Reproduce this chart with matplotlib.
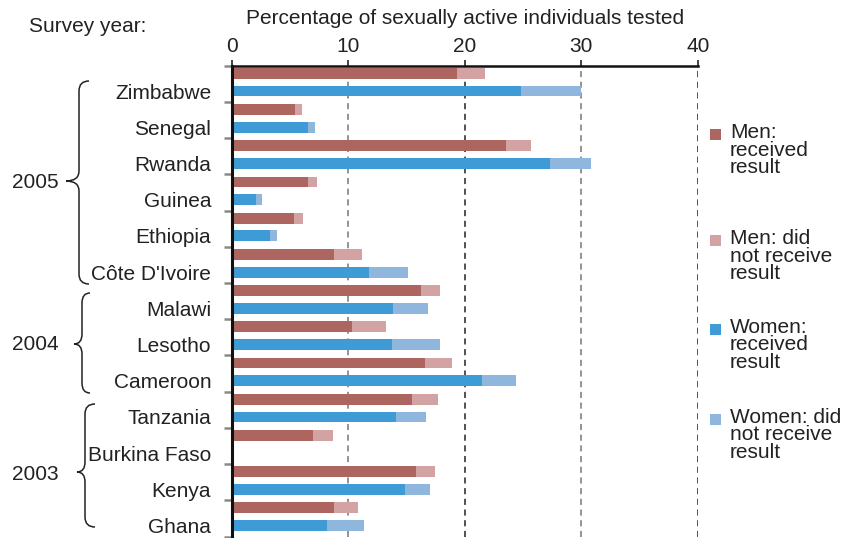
import numpy as np
import matplotlib
matplotlib.use("Agg")
import matplotlib.pyplot as plt
from matplotlib.path import Path
from matplotlib.patches import PathPatch

plt.rcParams['font.family'] = ['Liberation Sans', 'DejaVu Sans']

countries = ["Zimbabwe", "Senegal", "Rwanda", "Guinea", "Ethiopia", "Côte D'Ivoire",
             "Malawi", "Lesotho", "Cameroon",
             "Tanzania", "Burkina Faso", "Kenya", "Ghana"]
men_received = [19.3, 5.4, 23.5, 6.5, 5.3, 8.8, 16.2, 10.3, 16.6, 15.5, 7.0, 15.8, 8.8]
men_not_received = [2.4, 0.6, 2.2, 0.8, 0.8, 2.4, 1.7, 2.9, 2.3, 2.2, 1.7, 1.6, 2.0]
women_received = [24.8, 6.5, 27.3, 2.1, 3.3, 11.8, 13.8, 13.7, 21.5, 14.1, 0, 14.9, 8.2]
women_not_received = [5.2, 0.6, 3.5, 0.5, 0.6, 3.3, 3.0, 4.2, 2.9, 2.6, 0, 2.1, 3.1]
years = ["2005", "2004", "2003"]
legend_labels = ["Men:\nreceived\nresult", "Men: did\nnot receive\nresult",
                 "Women:\nreceived\nresult", "Women: did\nnot receive\nresult"]

c_men = "#ad665f"
c_men_not = "#d3a3a4"
c_women = "#3e9bd5"
c_women_not = "#8fb7de"
colors = [c_men, c_men_not, c_women, c_women_not]
fs = 15

W, H = 856, 538
fig = plt.figure(figsize=(W / 100, H / 100), dpi=100)
ax = fig.add_axes([232 / W, 1 - 536.5 / H, (697.7 - 232) / W, (536.5 - 65.7) / H])

n = len(countries)
idx = np.arange(n)
bh = 0.30
y_men = idx + 0.21
y_women = idx + 0.70

ax.barh(y_men, men_received, height=bh, color=c_men, linewidth=0)
ax.barh(y_men, men_not_received, left=men_received, height=bh, color=c_men_not, linewidth=0)
ax.barh(y_women, women_received, height=bh, color=c_women, linewidth=0)
ax.barh(y_women, women_not_received, left=women_received, height=bh, color=c_women_not, linewidth=0)

for xv, col in [(10, "#777777"), (20, "#222222"), (30, "#777777"), (40, "#222222")]:
    ax.axvline(xv, color=col, linestyle=(0, (4, 3)), linewidth=1.1, zorder=0)

ax.set_xlim(0, 40)
ax.set_ylim(n, 0)
ax.xaxis.tick_top()
ax.set_xticks([0, 10, 20, 30, 40])
ax.tick_params(axis="x", direction="out", length=4, width=1.2, labelsize=fs, pad=3, colors="#222222")
ax.set_yticks(np.arange(n + 1))
ax.set_yticklabels([])
ax.set_yticks(idx + 0.70, minor=True)
ax.set_yticklabels(countries, minor=True)
ax.tick_params(axis="y", which="major", direction="out", length=6, width=1.8, colors="#8a8a8a")
ax.tick_params(axis="y", which="minor", length=0, labelsize=fs, pad=15, labelcolor="#222222")
for side in ["right", "bottom"]:
    ax.spines[side].set_visible(False)
ax.spines["top"].set_linewidth(1.8)
ax.spines["left"].set_linewidth(2.2)
ax.spines["top"].set_color("#111111")
ax.spines["left"].set_color("#111111")

# overlay in pixel coordinates
ov = fig.add_axes([0, 0, 1, 1], zorder=-1)
ov.set_xlim(0, W)
ov.set_ylim(H, 0)
ov.axis("off")

ov.text(465, 18, "Percentage of sexually active individuals tested", ha="center", va="center",
        fontsize=fs, color="#222222")
ov.text(29, 26, "Survey year:", ha="left", va="center", fontsize=fs, color="#222222")


def brace(x_tip, x_mid, x_end, y_top, y_bot, y_c, r=10):
    verts = [(x_end, y_top), (x_mid, y_top), (x_mid, y_top + r),
             (x_mid, y_c - r), (x_mid, y_c), (x_tip, y_c),
             (x_mid, y_c), (x_mid, y_c + r),
             (x_mid, y_bot - r), (x_mid, y_bot), (x_end, y_bot)]
    codes = [Path.MOVETO, Path.CURVE3, Path.CURVE3,
             Path.LINETO, Path.CURVE3, Path.CURVE3,
             Path.CURVE3, Path.CURVE3,
             Path.LINETO, Path.CURVE3, Path.CURVE3]
    ov.add_patch(PathPatch(Path(verts, codes), fill=False, lw=1.1, color="#222222"))


brace(66, 79, 89, 81, 284, 181)
brace(74, 82, 90, 293, 393, 344)
brace(77, 85, 95, 404, 527, 472)

year_y = [182, 345, 474]
for yr, yy in zip(years, year_y):
    ov.text(12, yy, yr, ha="left", va="center", fontsize=fs, color="#222222")

leg_y = [123, 229, 318, 408]
for lab, col, yy in zip(legend_labels, colors, leg_y):
    ov.add_patch(plt.Rectangle((710, yy + 6), 11, 11, color=col, lw=0))
    ov.text(730, yy, lab, ha="left", va="top", fontsize=fs, linespacing=0.9, color="#222222")

fig.savefig("out.png", dpi=100)
